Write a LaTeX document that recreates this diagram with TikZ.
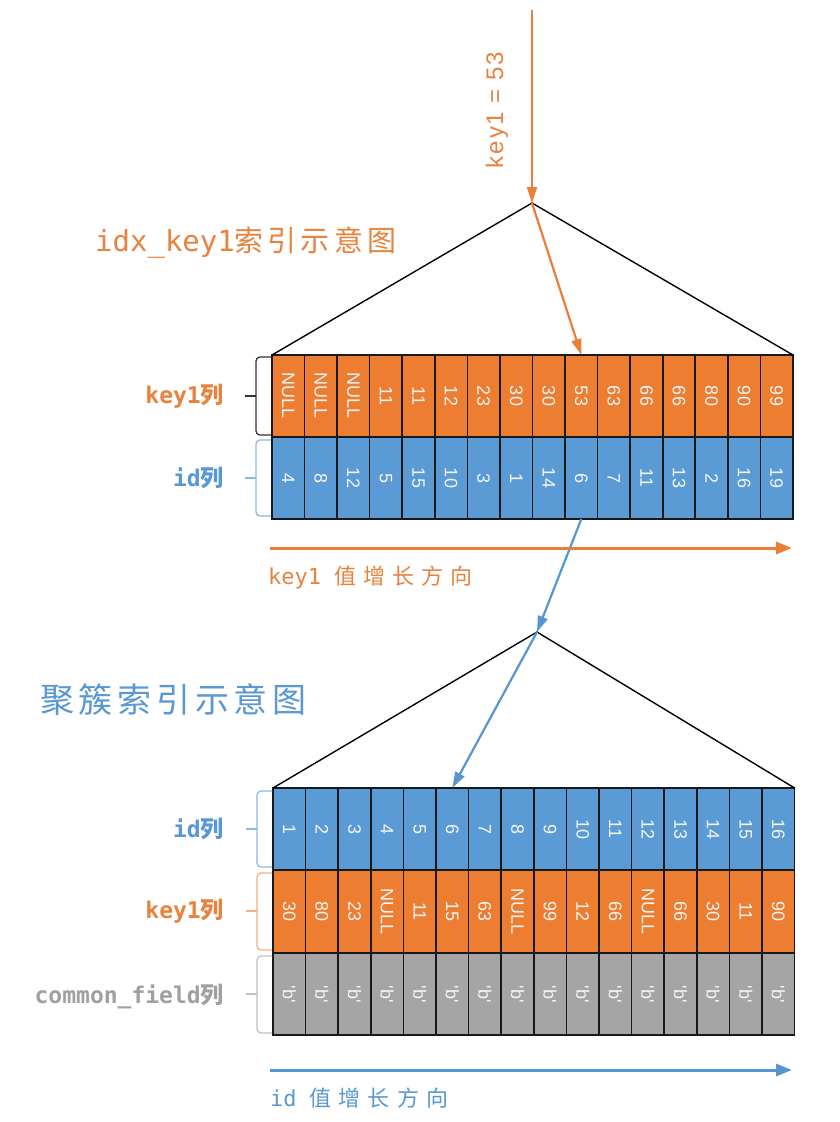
\documentclass[tikz,border=0pt]{standalone}
\usepackage{fontspec}
\setmainfont{Liberation Sans}
\newfontfamily\cjk{Noto Sans CJK SC}
\newfontfamily\cjksp[LetterSpace=14]{Noto Sans CJK SC}
\newfontfamily\cjkwide[LetterSpace=32]{Noto Sans CJK SC}
\newfontfamily\mono{DejaVu Sans Mono}
\newfontfamily\sansp[LetterSpace=8]{Liberation Sans}
\usetikzlibrary{arrows.meta}
\definecolor{org}{RGB}{237,125,49}
\definecolor{blu}{RGB}{91,155,213}
\definecolor{gry}{RGB}{165,165,165}
\definecolor{orgtxt}{RGB}{233,130,60}
\definecolor{blutxt}{RGB}{88,152,212}
\definecolor{grytxt}{RGB}{160,160,160}
\definecolor{orgarr}{RGB}{234,128,56}
\definecolor{bluarr}{RGB}{86,150,210}
\begin{document}
\begin{tikzpicture}[x=1pt,y=-1pt,
  cell/.style={draw=black!90, line width=1.6pt, minimum width=32.56pt, minimum height=82pt, inner sep=0pt, outer sep=0pt},
  cellb/.style={cell, minimum width=32.6pt},
  celltxt/.style={rotate=-90, text=white!96!black, font=\fontsize{18}{18}\selectfont, inner sep=0pt},
  tri/.style={draw=black, line width=1.4pt},
  oarr/.style={draw=orgarr, line width=2.2pt, -{Triangle[length=16pt,width=10pt]}},
  barr/.style={draw=bluarr, line width=2.2pt, -{Triangle[length=16pt,width=10pt]}},
  oharr/.style={draw=orgarr, line width=3pt, -{Triangle[length=16pt,width=12pt]}},
  bharr/.style={draw=bluarr, line width=3pt, -{Triangle[length=16pt,width=12pt]}},
  brc/.style={line width=1.3pt, rounded corners=4pt},
  lbl/.style={anchor=east, inner sep=0pt, font=\fontsize{23}{23}\selectfont\bfseries}
]
\useasboundingbox (0,0) rectangle (840,1122);
\fill[white] (0,0) rectangle (840,1122);

% ---------- top table (idx_key1) ----------
\foreach \v [count=\i] in {NULL,NULL,NULL,11,11,12,23,30,30,53,63,66,66,80,90,99} {
  \node[cell, fill=org] (ka\i) at ({272+(\i-0.5)*32.56}, 396) {};
  \node[celltxt] (tka\i) at (ka\i.center) {\v};
}
\foreach \v [count=\i] in {4,8,12,5,15,10,3,1,14,6,7,11,13,2,16,19} {
  \node[cell, fill=blu] (da\i) at ({272+(\i-0.5)*32.56}, 478) {};
  \node[celltxt] (tda\i) at (da\i.center) {\v};
}

% ---------- bottom table (clustered) ----------
\foreach \v [count=\i] in {1,2,3,4,5,6,7,8,9,10,11,12,13,14,15,16} {
  \node[cellb, fill=blu] (ib\i) at ({273+(\i-0.5)*32.6}, 829) {};
  \node[celltxt] (tib\i) at (ib\i.center) {\v};
}
\foreach \v [count=\i] in {30,80,23,NULL,11,15,63,NULL,99,12,66,NULL,66,30,11,90} {
  \node[cellb, fill=org] (kb\i) at ({273+(\i-0.5)*32.6}, 911.5) {};
  \node[celltxt] (tkb\i) at (kb\i.center) {\v};
}
\foreach \i in {1,...,16} {
  \node[cellb, fill=gry] (cb\i) at ({273+(\i-0.5)*32.6}, 994) {};
  \node[celltxt] (tcb\i) at (cb\i.center) {\textquotesingle b\textquotesingle};
}

% ---------- triangles ----------
\coordinate (apex1) at (532,203);
\coordinate (apex2) at (537,632);
\draw[tri] (ka1.north west) -- (apex1) -- (ka16.north east);
\draw[tri] (ib1.north west) -- (apex2) -- (ib16.north east);

% ---------- braces ----------
\draw[brc, draw=black!80] (271,357) -- (256,357) -- (256,435) -- (271,435);
\draw[line width=1.3pt, draw=black!80] (256,396) -- (245,396);
\draw[brc, draw=blu!70] (271,440) -- (256,440) -- (256,516) -- (271,516);
\draw[line width=1.3pt, draw=blu!70] (256,478) -- (245,478);

\draw[brc, draw=blu!70] (272,791) -- (257,791) -- (257,867) -- (272,867);
\draw[line width=1.3pt, draw=blu!70] (257,829) -- (246,829);
\draw[brc, draw=org!60] (272,873) -- (257,873) -- (257,950) -- (272,950);
\draw[line width=1.3pt, draw=org!60] (257,911) -- (246,911);
\draw[brc, draw=gry!70] (272,956) -- (257,956) -- (257,1033) -- (272,1033);
\draw[line width=1.3pt, draw=gry!70] (257,994) -- (246,994);

% ---------- labels ----------
\node[lbl, text=orgtxt] (lk1) at (224,396) {{\mono key1}{\cjk 列}};
\node[lbl, text=blutxt] (li1) at (224,478) {{\mono id}{\cjk 列}};
\node[lbl, text=blutxt] (li2) at (224,829) {{\mono id}{\cjk 列}};
\node[lbl, text=orgtxt] (lk2) at (224,911) {{\mono key1}{\cjk 列}};
\node[lbl, text=grytxt] (lc2) at (224,997) {{\mono common\_field}{\cjk 列}};

\node[anchor=west, inner sep=0pt, text=orgtxt, font=\fontsize{29}{29}\selectfont] (title1) at (95,243) {{\mono idx\_key1}{\cjksp 索引示意图}};
\node[anchor=west, inner sep=0pt, text=blutxt, font=\fontsize{34}{34}\selectfont] (title2) at (40,700) {{\cjksp 聚簇索引示意图}};

\node[rotate=90, inner sep=0pt, text=orgtxt, font=\fontsize{24}{24}\selectfont] (q) at (497,110) {\sansp key1 = 53};

% ---------- arrows ----------
\coordinate (qtop) at (532,10);
\draw[oarr] (qtop) -- (apex1);
\draw[oarr] (apex1) -- (ka10.north);
\draw[barr] (da10.south) -- (apex2);
\draw[barr] (apex2) -- (ib6.north);

\coordinate (oh1) at (270,548);
\coordinate (oh2) at (792,548);
\draw[oharr] (oh1) -- (oh2);
\node[anchor=west, inner sep=0pt, text=orgtxt, font=\fontsize{22}{22}\selectfont] (dir1) at (268,577) {{\mono key1 }{\cjkwide 值增长方向}};

\coordinate (bh1) at (270,1070);
\coordinate (bh2) at (792,1070);
\draw[bharr] (bh1) -- (bh2);
\node[anchor=west, inner sep=0pt, text=blutxt, font=\fontsize{22}{22}\selectfont] (dir2) at (270,1098) {{\mono id }{\cjkwide 值增长方向}};
\end{tikzpicture}
\end{document}
